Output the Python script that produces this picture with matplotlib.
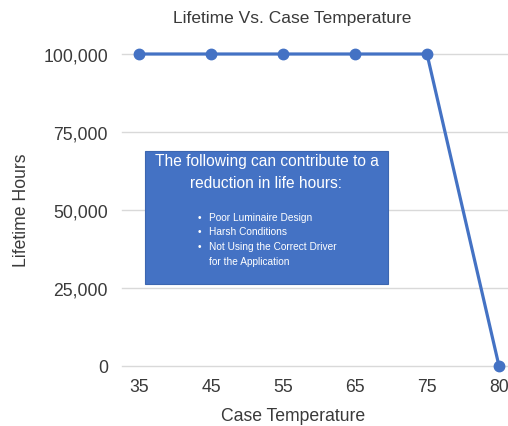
import matplotlib
import matplotlib.pyplot as plt
from matplotlib.patches import Rectangle
from matplotlib.ticker import FuncFormatter

matplotlib.use("Agg")

BLUE = "#4472C4"
INK = "#3a3a3a"
GRID = "#d9d9d9"

temps = ["35", "45", "55", "65", "75", "80"]
lifetime_hours = [100000, 100000, 100000, 100000, 100000, 0]
y_ticks = [0, 25000, 50000, 75000, 100000]

box_header = ["The following can contribute to a", "reduction in life hours:"]
box_bullets = ["Poor Luminaire Design", "Harsh Conditions",
               "Not Using the Correct Driver", "for the Application"]

plt.rcParams["font.family"] = ["Liberation Sans", "DejaVu Sans"]

W, H = 508, 427
fig = plt.figure(figsize=(W / 100, H / 100), dpi=100)


def fx(px):
    return px / W


def fy(py):
    return 1 - py / H


# axes in pixel terms: x 122..516, y 55..367
ax = fig.add_axes([fx(122), fy(367), (516 - 122) / W, (367 - 55) / H])
x = list(range(len(temps)))
ax.plot(x, lifetime_hours, color=BLUE, lw=2.3, marker="o", ms=7.5,
        clip_on=False, zorder=3)

ax.set_xlim(-17 / 72, len(temps) - 1 + 17 / 72)
ax.set_ylim(0, 100000)
ax.set_xticks(x)
ax.set_xticklabels(temps)
ax.set_yticks(y_ticks)
ax.yaxis.set_major_formatter(FuncFormatter(lambda v, _: f"{int(v):,}"))
ax.grid(axis="y", color=GRID, lw=1)
for gl in ax.get_ygridlines():
    gl.set_clip_on(False)
ax.set_axisbelow(True)
for s in ax.spines.values():
    s.set_visible(False)
ax.tick_params(length=0, labelsize=12.7, colors=INK)
ax.tick_params(axis="y", pad=10)
ax.tick_params(axis="x", pad=9)

fig.text(fx(292), fy(19), "Lifetime Vs. Case Temperature", ha="center",
         va="center", fontsize=12.5, color=INK)
fig.text(fx(293), fy(417), "Case Temperature", ha="center", va="center",
         fontsize=12.7, color=INK)
fig.text(fx(22), fy(210), "Lifetime Hours", ha="center", va="center",
         rotation=90, fontsize=12.7, color=INK)

# callout box
fig.patches.append(Rectangle((fx(145), fy(285)), (388 - 145) / W, (285 - 152) / H,
                             transform=fig.transFigure, facecolor=BLUE,
                             edgecolor="#3c66b0", lw=0.8, zorder=5))
for text, py in zip(box_header, [162, 183]):
    fig.text(fx(266.5), fy(py), text, ha="center", va="center", fontsize=11.2,
             color="white", zorder=6)
for i, (text, py) in enumerate(zip(box_bullets, [218, 232, 247, 262])):
    if i < 3:
        fig.text(fx(198), fy(py), "•", ha="left", va="center", fontsize=7.3,
                 color="white", zorder=6)
    fig.text(fx(209), fy(py), text, ha="left", va="center", fontsize=7.3,
             color="white", zorder=6)

fig.savefig("out.png", dpi=100, facecolor="white")
